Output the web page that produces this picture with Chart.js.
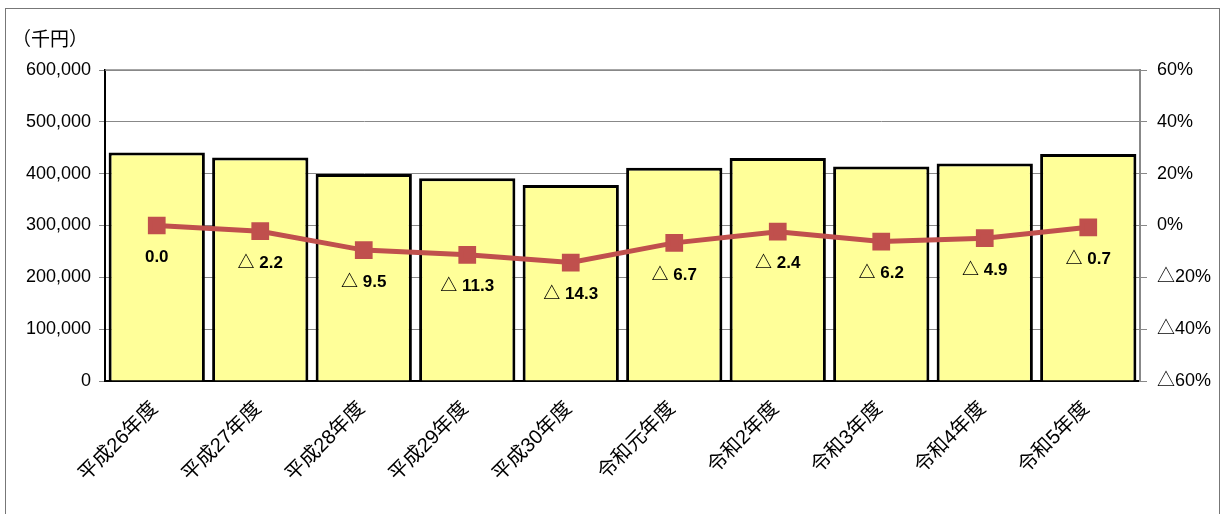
<!DOCTYPE html>
<html>
<head>
<meta charset="utf-8">
<script src="https://cdn.jsdelivr.net/npm/chart.js@4"></script>
<style>
  html, body { margin: 0; padding: 0; background: #fff; }
  #wrap { position: relative; width: 1223px; height: 514px; overflow: hidden; }
  #frame { position: absolute; left: 5px; top: 8px; width: 1213px; height: 520px; border: 1px solid #777; }
  canvas { position: absolute; left: 0; top: 0; }
</style>
</head>
<body>
<div id="wrap">
  <div id="frame"></div>
  <canvas id="grafico" width="1223" height="514"></canvas>
</div>
<script>
const categorias = ["平成26年度", "平成27年度", "平成28年度", "平成29年度", "平成30年度",
  "令和元年度", "令和2年度", "令和3年度", "令和4年度", "令和5年度"];
const montos = [441000, 431400, 399300, 391300, 378100, 411300, 430400, 413700, 419400, 437900];
const variacion = [0.0, -2.2, -9.5, -11.3, -14.3, -6.7, -2.4, -6.2, -4.9, -0.7];

const fuenteJP = '"Liberation Sans", "Noto Sans CJK JP", sans-serif';

// etiquetas de la línea y la unidad arriba a la izquierda
const etiquetas = {
  id: "etiquetas",
  afterDatasetsDraw(chart) {
    const ctx = chart.ctx;
    const meta = chart.getDatasetMeta(0);
    ctx.save();
    ctx.fillStyle = "#000";
    ctx.font = "bold 17px " + fuenteJP;
    ctx.textAlign = "center";
    ctx.textBaseline = "middle";
    meta.data.forEach((p, i) => {
      const v = variacion[i];
      const txt = v < 0 ? "△ " + (-v).toFixed(1) : v.toFixed(1);
      ctx.fillText(txt, p.x, p.y + 32);
    });
    ctx.font = "19px " + fuenteJP;
    ctx.textAlign = "left";
    ctx.fillText("（千円）", 12, 41);
    ctx.restore();
  },
};

const ctx = document.getElementById("grafico").getContext("2d");
new Chart(ctx, {
  data: {
    labels: categorias,
    datasets: [
      {
        type: "line",
        label: "増減率",
        data: variacion,
        yAxisID: "y1",
        borderColor: "#C0504D",
        backgroundColor: "#C0504D",
        borderWidth: 5,
        pointStyle: "rect",
        pointRadius: 9,
        pointHoverRadius: 9,
        tension: 0,
        order: 0,
      },
      {
        type: "bar",
        label: "金額",
        data: montos,
        yAxisID: "y",
        backgroundColor: "#FFFF99",
        borderColor: "#000",
        borderWidth: 3,
        barPercentage: 0.93,
        categoryPercentage: 1,
        order: 1,
      },
    ],
  },
  options: {
    responsive: false,
    animation: false,
    layout: { padding: { top: 70 } },
    plugins: { legend: { display: false }, tooltip: { enabled: false } },
    scales: {
      x: {
        grid: { display: false, drawTicks: false },
        border: { color: "#000", width: 2 },
        ticks: {
          color: "#000",
          font: { size: 20, family: fuenteJP },
          minRotation: 45,
          maxRotation: 45,
          labelOffset: -2,
          padding: 16,
        },
        afterFit: (s) => { s.height = 133; },
      },
      y: {
        position: "left",
        min: 0,
        max: 600000,
        ticks: {
          stepSize: 100000,
          color: "#000",
          font: { size: 18, family: fuenteJP },
          padding: 8,
          callback: (v) => v.toLocaleString("en-US"),
        },
        grid: { color: "#888", lineWidth: 1, tickLength: 6 },
        border: { color: "#000", width: 2 },
        afterFit: (s) => { s.width = 105; },
      },
      y1: {
        position: "right",
        min: -60,
        max: 60,
        ticks: {
          stepSize: 20,
          color: "#000",
          font: { size: 18, family: fuenteJP },
          padding: 10,
          callback: (v) => (v < 0 ? "△" + (-v) + "%" : v + "%"),
        },
        grid: { drawOnChartArea: false, color: "#888", tickLength: 7 },
        border: { color: "#888", width: 2 },
        afterFit: (s) => { s.width = 83; },
      },
    },
  },
  plugins: [etiquetas,
    {
      id: "bordeSuperior",
      beforeDatasetsDraw(chart) {
        const a = chart.chartArea;
        const c = chart.ctx;
        c.save();
        c.strokeStyle = "#888";
        c.lineWidth = 1.5;
        c.beginPath();
        c.moveTo(a.left, a.top);
        c.lineTo(a.right, a.top);
        c.stroke();
        c.restore();
      },
    }],
});
</script>
</body>
</html>
